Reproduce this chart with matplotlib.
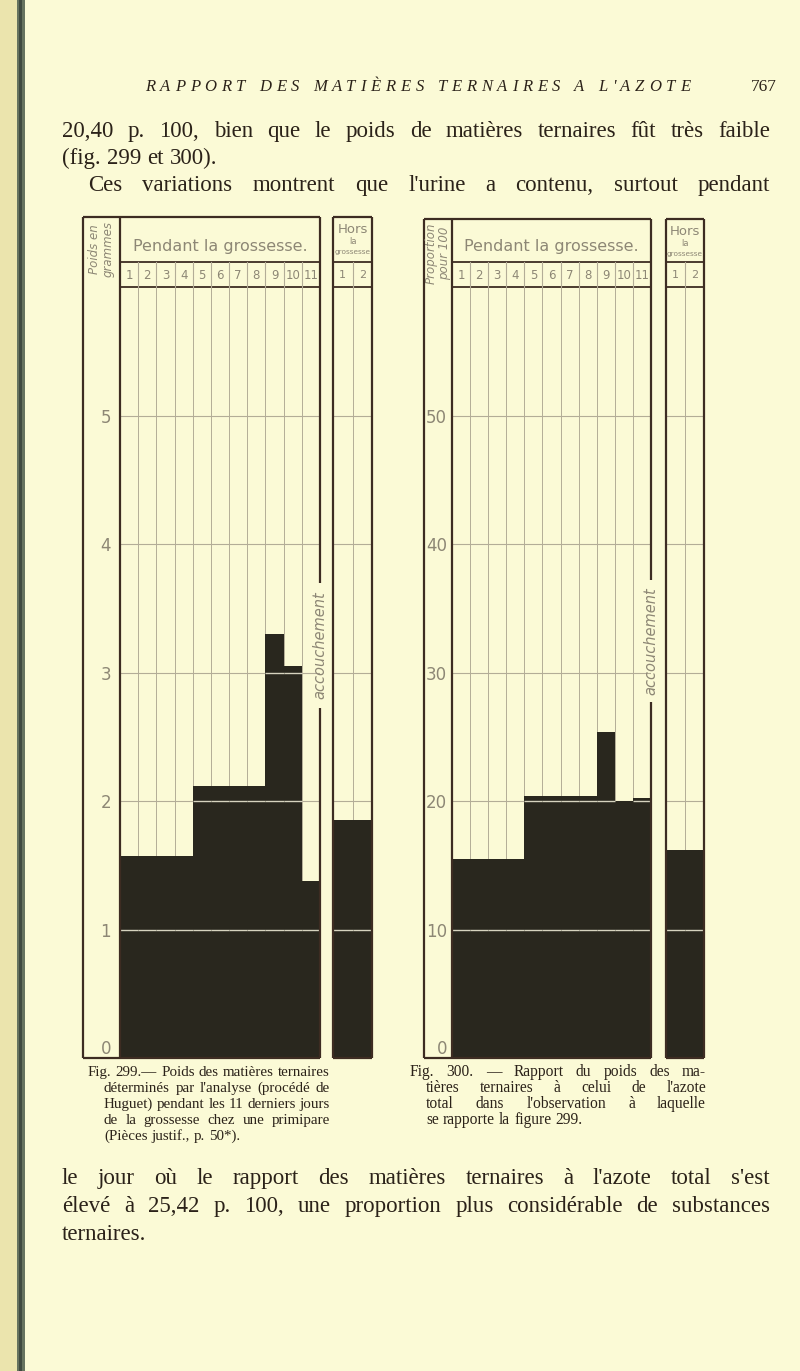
import matplotlib.pyplot as plt
from matplotlib.patches import Rectangle

# ---------------------------------------------------------
# Data
# ---------------------------------------------------------
days = [1, 2, 3, 4, 5, 6, 7, 8, 9, 10, 11]
hors_days = [1, 2]

# Fig. 299 : poids des matieres ternaires (grammes)
poids = [1.57, 1.57, 1.57, 1.57, 2.12, 2.12, 2.12, 2.12, 3.30, 3.05, 1.38]
poids_hors = [1.85, 1.85]
poids_ticks = [0, 1, 2, 3, 4, 5]

# Fig. 300 : rapport matieres ternaires / azote total (p. 100)
rapport = [15.5, 15.5, 15.5, 15.5, 20.4, 20.4, 20.4, 20.4, 25.4, 20.0, 20.2]
rapport_hors = [16.2, 16.2]
rapport_ticks = [0, 10, 20, 30, 40, 50]

running_head = "RAPPORT DES MATIÈRES TERNAIRES A L'AZOTE"
page_number = "767"
text_top = ["20,40 p. 100, bien que le poids de matières ternaires fût très faible",
            "(fig. 299 et 300).",
            "Ces variations montrent que l'urine a contenu, surtout pendant"]
text_bottom = ["le jour où le rapport des matières ternaires à l'azote total s'est",
               "élevé à 25,42 p. 100, une proportion plus considérable de substances",
               "ternaires."]
caption_299 = ["Fig. 299.— Poids des matières ternaires",
               "déterminés par l'analyse (procédé de",
               "Huguet) pendant les 11 derniers jours",
               "de la grossesse chez une primipare",
               "(Pièces justif., p. 50*)."]
caption_300 = ["Fig. 300. — Rapport du poids des ma-",
               "tières ternaires à celui de l'azote",
               "total dans l'observation à laquelle",
               "se rapporte la figure 299."]

# ---------------------------------------------------------
# Page set-up (1 data unit = 1 pixel on the page axes)
# ---------------------------------------------------------
PAPER = '#fbfad6'
INK = '#2b2219'
FRAME = '#3d2c22'
GRID = '#b3ad97'
LIGHT = '#d6d3bf'
LETTER = '#8d8775'
BLACK = '#29271e'
SERIF = ['Liberation Serif', 'DejaVu Serif']

W, H = 800, 1371
fig = plt.figure(figsize=(W / 100, H / 100), dpi=100)
fig.patch.set_facecolor(PAPER)


def page_axes(z):
    a = fig.add_axes([0, 0, 1, 1], zorder=z)
    a.set_xlim(0, W)
    a.set_ylim(H, 0)
    a.axis('off')
    return a


under = page_axes(0)
over = page_axes(3)


def box_axes(x0, y0, x1, y1):
    a = fig.add_axes([x0 / W, 1 - y1 / H, (x1 - x0) / W, (y1 - y0) / H], zorder=1)
    a.patch.set_alpha(0)
    for s in a.spines.values():
        s.set_visible(False)
    return a


renderer = fig.canvas.get_renderer()


def spread(tokens, y, size, **kw):
    arts = [over.text(0, y, t, fontsize=size, va='baseline', ha='left',
                      color=INK, family=SERIF, **kw) for t in tokens]
    widths = [a.get_window_extent(renderer).width for a in arts]
    return arts, widths


def justified(line, x0, x1, y, size, last=False, **kw):
    words = line.split()
    arts, widths = spread(words, y, size, **kw)
    if last or len(words) == 1:
        gap = size * 0.27 * 100 / 72
    else:
        gap = (x1 - x0 - sum(widths)) / (len(words) - 1)
    x = x0
    for a, w in zip(arts, widths):
        a.set_x(x)
        x += w + gap


def tracked(line, x0, x1, y, size, **kw):
    # letter-spaced running head
    chars = list(line)
    arts, widths = spread(chars, y, size, **kw)
    space = size * 0.25 * 100 / 72
    widths = [space if c == ' ' else w for c, w in zip(chars, widths)]
    extra = (x1 - x0 - sum(widths)) / (len(chars) - 1)
    x = x0
    for a, w in zip(arts, widths):
        a.set_x(x)
        x += w + extra


def hline(y, xa, xb, lw=1.3):
    over.plot([xa, xb], [y, y], color=FRAME, lw=lw, solid_capstyle='butt')


def vline(x, ya, yb, lw=1.3):
    over.plot([x, x], [ya, yb], color=FRAME, lw=lw, solid_capstyle='butt')


# ---------------------------------------------------------
# One chart
# ---------------------------------------------------------
def draw_chart(g, vals, hors_vals, ticks, ymax, unit_label):
    x0, xl, x1 = g['x0'], g['xl'], g['x1']
    hx0, hx1 = g['hx0'], g['hx1']
    top, r1, r2, bot = g['top'], g['r1'], g['r2'], g['bot']

    ax = box_axes(xl, r2, x1, bot)
    hx = box_axes(hx0, r2, hx1, bot)
    for a, xs, v in [(ax, days, vals), (hx, hors_days, hors_vals)]:
        a.set_xlim(0.5, len(xs) + 0.5)
        a.set_ylim(0, ymax)
        for k in range(1, len(xs)):
            a.axvline(k + 0.5, color=GRID, lw=0.7, zorder=0)
        for t in ticks[1:]:
            a.axhline(t, color=GRID, lw=0.8, zorder=0)
        a.bar(xs, v, width=1.0, color=BLACK, lw=0, zorder=1)
        for t in ticks[1:]:
            for xi, vi in zip(xs, v):
                if vi > t:
                    a.hlines(t, xi - 0.5, xi + 0.5, color=LIGHT, lw=1.0, zorder=2)
        a.set_xticks([])
    hx.set_yticks([])
    ax.set_yticks(ticks)
    ax.set_yticklabels([str(t) for t in ticks], fontsize=12, color=LETTER)
    ax.tick_params(axis='y', length=0, pad=g['pad'])
    ax.get_yticklabels()[0].set_va('bottom')

    # frames
    vline(x0, top, bot, 1.6)
    vline(xl, top, bot, 1.6)
    hline(top, x0, x1, 1.6)
    hline(bot, x0, x1, 1.6)
    hline(r1, xl, x1)
    hline(r2, xl, x1)
    vline(x1, top, g['gap'][0], 1.6)
    vline(x1, g['gap'][1], bot, 1.6)
    over.text(x1, sum(g['gap']) / 2, 'accouchement', rotation=90, style='italic',
              fontsize=10.5, color=LETTER, ha='center', va='center')

    vline(hx0, top, bot, 1.6)
    vline(hx1, top, bot, 1.6)
    hline(top, hx0, hx1, 1.6)
    hline(bot, hx0, hx1, 1.6)
    hline(r1, hx0, hx1)
    hline(r2, hx0, hx1)

    # header row with day numbers
    step = (x1 - xl) / len(days)
    for k, d in enumerate(days):
        if k:
            over.plot([xl + k * step] * 2, [r1, r2], color=GRID, lw=0.8)
        over.text(xl + (k + 0.5) * step, (r1 + r2) / 2 + 1, str(d), fontsize=8.5,
                  color=LETTER, ha='center', va='center')
    hstep = (hx1 - hx0) / len(hors_days)
    for k, d in enumerate(hors_days):
        if k:
            over.plot([hx0 + k * hstep] * 2, [r1, r2], color=GRID, lw=0.8)
        over.text(hx0 + (k + 0.5) * hstep, (r1 + r2) / 2 + 1, str(d), fontsize=8,
                  color=LETTER, ha='center', va='center')

    over.text((xl + x1) / 2, r1 - 11, 'Pendant la grossesse.', fontsize=11.5,
              color=LETTER, ha='center', va='baseline')
    hc = (hx0 + hx1) / 2
    over.text(hc, top + 16, 'Hors', fontsize=9.5, color=LETTER, ha='center', va='baseline')
    over.text(hc, top + 27, 'la', fontsize=6, color=LETTER, ha='center', va='baseline')
    over.text(hc, top + 37, 'grossesse', fontsize=5.3, color=LETTER, ha='center',
              va='baseline')

    over.text((x0 + xl) / 2, top + 4, unit_label, rotation=90, style='italic',
              fontsize=8.5, color=LETTER, ha='center', va='top', linespacing=1.0)


left = dict(x0=83, xl=120, x1=320, hx0=333, hx1=372, top=217, r1=262, r2=287,
            bot=1058, gap=(583, 708), pad=6.5)
right = dict(x0=424, xl=452, x1=651, hx0=666, hx1=704, top=219, r1=262, r2=287,
             bot=1058, gap=(580, 702), pad=3.6)

draw_chart(left, poids, poids_hors, poids_ticks, 6, 'Poids en\ngrammes')
draw_chart(right, rapport, rapport_hors, rapport_ticks, 60, 'Proportion\npour 100')

# ---------------------------------------------------------
# Book page around the figures
# ---------------------------------------------------------
under.add_patch(Rectangle((0, 0), 17, H, color='#ebe4ad', lw=0))
under.add_patch(Rectangle((17, 0), 8, H, color='#66735f', lw=0))
under.add_patch(Rectangle((19, 0), 3, H, color='#3f4a40', lw=0))

tracked(running_head, 145, 690, 91, 12, style='italic')
over.text(777, 91, page_number, fontsize=12.5, ha='right', va='baseline',
          color=INK, family=SERIF)

justified(text_top[0], 62, 770, 137, 16.5)
justified(text_top[1], 62, 770, 164, 16.5, last=True)
justified(text_top[2], 88, 770, 191, 16.5)

for i, line in enumerate(caption_299):
    xs = 88 if i == 0 else 104
    justified(line, xs, 330, 1076 + 16 * i, 10.8, last=(i == len(caption_299) - 1))
for i, line in enumerate(caption_300):
    xs = 410 if i == 0 else 426
    justified(line, xs, 706, 1076 + 16 * i, 11.2, last=(i == len(caption_300) - 1))

justified(text_bottom[0], 62, 770, 1184, 16.5)
justified(text_bottom[1], 62, 770, 1212, 16.5)
justified(text_bottom[2], 62, 770, 1240, 16.5, last=True)

fig.savefig('out.png', dpi=100, facecolor=PAPER)
